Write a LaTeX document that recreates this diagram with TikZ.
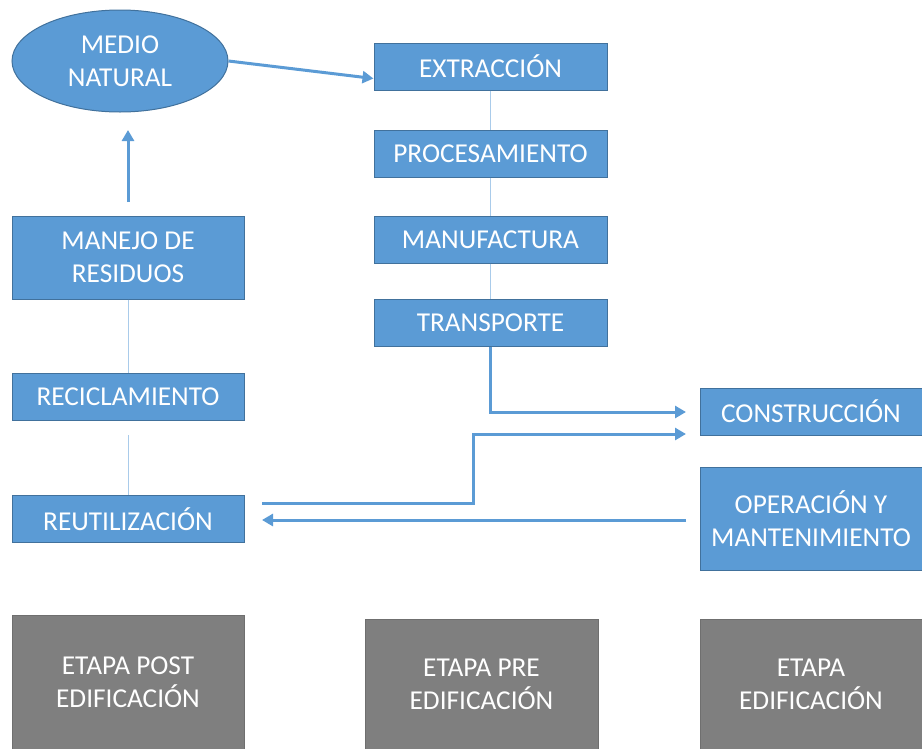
\documentclass[tikz,border=0pt]{standalone}
\usepackage{fontspec}
\setmainfont{Carlito}
\usetikzlibrary{shapes.geometric, arrows.meta, calc}
\definecolor{boxBlue}  {HTML}{5B9BD5}
\definecolor{boxEdge}  {HTML}{41719C}
\definecolor{stageGray}{HTML}{7F7F7F}
\definecolor{stageEdge}{HTML}{6F6F6F}
\definecolor{linkBlue} {HTML}{A9CBEA}
\tikzset{
  stepbox/.style={rectangle, fill=boxBlue, draw=boxEdge, line width=1pt,
    text=white, minimum height=47pt, inner sep=0pt, align=center,
    font=\fontsize{27.3}{33}\selectfont},
  stagebox/.style={rectangle, fill=stageGray, draw=stageEdge, line width=1pt,
    text=white, inner sep=0pt, align=center,
    font=\fontsize{27.3}{33}\selectfont},
  flow/.style={draw=boxBlue, line width=3pt,
    -{Triangle[length=11pt, width=12pt]}},
  link/.style={draw=linkBlue, line width=1pt}
}
\begin{document}
\begin{tikzpicture}[x=1pt, y=-1pt]
\useasboundingbox (0,0) rectangle (922,748);

% --- PRE EDIFICACION (middle column) ---
\node[stepbox, minimum width=233pt] (extr)  at (490.5, 66.5)  {EXTRACCIÓN};
\node[stepbox, minimum width=233pt] (proc)  at (490.5, 153.5) {PROCESAMIENTO};
\node[stepbox, minimum width=233pt] (manuf) at (490.5, 239.5) {MANUFACTURA};
\node[stepbox, minimum width=233pt] (trans) at (490.5, 322.5) {TRANSPORTE};

% --- POST EDIFICACION (left column) ---
\node[ellipse, fill=boxBlue, draw=boxEdge, line width=1pt, text=white,
  minimum width=216pt, minimum height=102pt, inner sep=0pt, align=center,
  font=\fontsize{27.3}{33}\selectfont] (medio) at (120, 61) {MEDIO\\NATURAL};
\node[stepbox, minimum width=232pt, minimum height=83pt]
  (manejo) at (128, 257.5) {MANEJO DE\\RESIDUOS};
\node[stepbox, minimum width=232pt] (recic) at (128, 397) {RECICLAMIENTO};
\node[stepbox, minimum width=232pt] (reuti) at (128, 519) {REUTILIZACIÓN};

% --- EDIFICACION (right column) ---
\node[stepbox, minimum width=222pt] (constr) at (811, 411.5) {CONSTRUCCIÓN};
\node[stepbox, minimum width=222pt, minimum height=103pt]
  (opera) at (811, 518.5) {OPERACIÓN Y\\MANTENIMIENTO};

% --- STAGES ---
\node[stagebox, minimum width=232pt, minimum height=135pt]
  (postEd) at (128, 682.5) {ETAPA POST\\EDIFICACIÓN};
\node[stagebox, minimum width=233pt, minimum height=131pt]
  (preEd) at (481.5, 684.5) {ETAPA PRE\\EDIFICACIÓN};
\node[stagebox, minimum width=222pt, minimum height=131pt]
  (edif) at (811, 684.5) {ETAPA\\EDIFICACIÓN};

% --- free ends ---
\coordinate (upFrom)   at (128, 202);
\coordinate (upTo)     at (128, 130);
\coordinate (recicTop) at (128, 373);
\coordinate (recicBot) at (128, 435);
\coordinate (toConsA)  at (686, 412);
\coordinate (toConsB)  at (686, 434);
\coordinate (reutiEnd) at (262, 503);
\coordinate (reutiIn)  at (262, 520);
\coordinate (operaOut) at (686, 520);

% --- thin links ---
\draw[link] (extr) -- (proc);
\draw[link] (proc) -- (manuf);
\draw[link] (manuf) -- (trans);
\draw[link] (manejo.south) -- (recicTop);
\draw[link] (recicBot) -- (reuti.north);

% --- arrows ---
\draw[flow] (medio.east) -- ($(extr.west)+(0,12)$);
\draw[flow] (upFrom) -- (upTo);
\draw[flow] (trans.south) |- (toConsA);
\draw[flow] (reutiEnd) -- (473, 503) |- (toConsB);
\draw[flow] (operaOut) -- (reutiIn);

\end{tikzpicture}
\end{document}
